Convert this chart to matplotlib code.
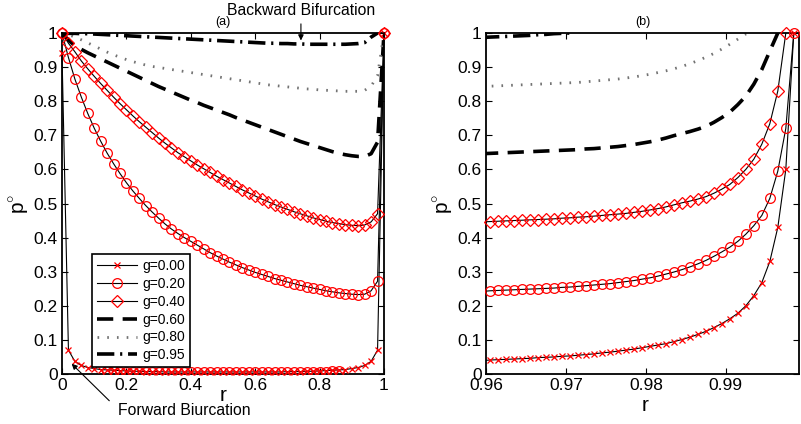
import numpy as np
import matplotlib
matplotlib.use("Agg")
import matplotlib.pyplot as plt

plt.rcParams['font.family'] = ['Liberation Sans', 'DejaVu Sans']
plt.rcParams['mathtext.fontset'] = 'custom'
plt.rcParams['mathtext.rm'] = 'Liberation Sans'

# ---- panel (a): r from 0 to 1, step 0.02 ----
r_a = [0.00, 0.02, 0.04, 0.06, 0.08, 0.10, 0.12, 0.14, 0.16, 0.18,
       0.20, 0.22, 0.24, 0.26, 0.28, 0.30, 0.32, 0.34, 0.36, 0.38,
       0.40, 0.42, 0.44, 0.46, 0.48, 0.50, 0.52, 0.54, 0.56, 0.58,
       0.60, 0.62, 0.64, 0.66, 0.68, 0.70, 0.72, 0.74, 0.76, 0.78,
       0.80, 0.82, 0.84, 0.86, 0.88, 0.90, 0.92, 0.94, 0.96, 0.98,
       1.00]

pa_g000 = [0.94, 0.07, 0.037, 0.025, 0.019, 0.016, 0.013, 0.012, 0.011, 0.010,
           0.009, 0.008, 0.008, 0.007, 0.007, 0.007, 0.006, 0.006, 0.006, 0.006,
           0.006, 0.006, 0.006, 0.006, 0.006, 0.006, 0.006, 0.006, 0.006, 0.006,
           0.006, 0.006, 0.006, 0.006, 0.006, 0.007, 0.007, 0.007, 0.008, 0.008,
           0.009, 0.010, 0.011, 0.012, 0.013, 0.016, 0.019, 0.025, 0.037, 0.07,
           1.0]
pa_g020 = [1.0, 0.928, 0.865, 0.812, 0.764, 0.721, 0.683, 0.648, 0.617, 0.588,
           0.561, 0.537, 0.515, 0.494, 0.475, 0.457, 0.44, 0.425, 0.412, 0.4,
           0.389, 0.378, 0.367, 0.356, 0.346, 0.337, 0.328, 0.32, 0.312, 0.305,
           0.298, 0.292, 0.286, 0.28, 0.275, 0.27, 0.265, 0.26, 0.256, 0.252,
           0.248, 0.244, 0.241, 0.238, 0.236, 0.234, 0.233, 0.234, 0.244, 0.272,
           1.0]
# second (lower) set of g=0.20 circles lying along p ~ 0
pa_g020_low = [np.nan, np.nan, np.nan, np.nan, np.nan, np.nan, np.nan, 0.008, 0.008, 0.007,
               0.007, 0.007, 0.007, 0.006, 0.006, 0.006, 0.006, 0.006, 0.006, 0.006,
               0.006, 0.006, 0.006, 0.006, 0.006, 0.006, 0.006, 0.006, 0.006, 0.006,
               0.006, 0.006, 0.006, 0.006, 0.006, 0.006, 0.006, 0.006, 0.007, 0.007,
               0.007, 0.007, 0.008, 0.008, np.nan, np.nan, np.nan, np.nan, np.nan, np.nan,
               np.nan]
pa_g040 = [1.0, 0.97, 0.945, 0.918, 0.895, 0.873, 0.852, 0.832, 0.812, 0.793,
           0.775, 0.757, 0.74, 0.724, 0.708, 0.692, 0.677, 0.663, 0.649, 0.637,
           0.625, 0.613, 0.602, 0.591, 0.58, 0.57, 0.56, 0.55, 0.54, 0.531,
           0.522, 0.513, 0.505, 0.497, 0.49, 0.483, 0.476, 0.47, 0.464, 0.458,
           0.453, 0.448, 0.444, 0.441, 0.438, 0.436, 0.435, 0.437, 0.446, 0.47,
           1.0]
pa_g060 = [1.0, 0.979, 0.963, 0.952, 0.942, 0.933, 0.924, 0.915, 0.906, 0.897,
           0.888, 0.879, 0.870, 0.861, 0.852, 0.843, 0.835, 0.827, 0.819, 0.811,
           0.803, 0.796, 0.788, 0.781, 0.774, 0.767, 0.760, 0.752, 0.745, 0.738,
           0.731, 0.724, 0.717, 0.710, 0.703, 0.696, 0.689, 0.682, 0.676, 0.670,
           0.664, 0.658, 0.652, 0.647, 0.643, 0.640, 0.638, 0.638, 0.646, 0.68,
           1.0]
pa_g080 = [1.0, 0.995, 0.988, 0.98, 0.971, 0.962, 0.953, 0.944, 0.936, 0.929,
           0.922, 0.916, 0.911, 0.906, 0.902, 0.899, 0.896, 0.893, 0.89, 0.887,
           0.884, 0.881, 0.878, 0.875, 0.872, 0.869, 0.866, 0.863, 0.86, 0.857,
           0.854, 0.851, 0.848, 0.846, 0.844, 0.842, 0.840, 0.838, 0.836, 0.835,
           0.833, 0.832, 0.831, 0.830, 0.829, 0.829, 0.829, 0.832, 0.844, 0.875,
           1.0]
pa_g095 = [1.0, 0.999, 0.999, 0.998, 0.998, 0.997, 0.996, 0.995, 0.994, 0.993,
           0.992, 0.991, 0.99, 0.989, 0.988, 0.987, 0.986, 0.985, 0.984, 0.983,
           0.982, 0.981, 0.98, 0.979, 0.978, 0.977, 0.976, 0.975, 0.974, 0.973,
           0.972, 0.971, 0.97, 0.97, 0.969, 0.969, 0.968, 0.968, 0.967, 0.967,
           0.967, 0.967, 0.967, 0.967, 0.967, 0.968, 0.969, 0.972, 0.988, 1.0,
           np.nan]

# ---- panel (b): zoom near r = 1, step 0.001 ----
r_b = [0.9595, 0.9605, 0.9615, 0.9625, 0.9635, 0.9645, 0.9655, 0.9665, 0.9675, 0.9685,
       0.9695, 0.9705, 0.9715, 0.9725, 0.9735, 0.9745, 0.9755, 0.9765, 0.9775, 0.9785,
       0.9795, 0.9805, 0.9815, 0.9825, 0.9835, 0.9845, 0.9855, 0.9865, 0.9875, 0.9885,
       0.9895, 0.9905, 0.9915, 0.9925, 0.9935, 0.9945, 0.9955, 0.9965, 0.9975, 0.9985]

pb_g000 = [0.039, 0.041, 0.042, 0.043, 0.044, 0.045, 0.046, 0.048, 0.049, 0.050,
           0.052, 0.053, 0.055, 0.057, 0.059, 0.062, 0.064, 0.067, 0.070, 0.073,
           0.077, 0.081, 0.085, 0.089, 0.095, 0.101, 0.108, 0.116, 0.125, 0.136,
           0.148, 0.162, 0.178, 0.200, 0.230, 0.268, 0.330, 0.430, 0.600, 1.000]
pb_g020 = [0.242, 0.244, 0.245, 0.246, 0.247, 0.248, 0.249, 0.250, 0.251, 0.252,
           0.254, 0.255, 0.257, 0.259, 0.261, 0.263, 0.265, 0.268, 0.271, 0.274,
           0.278, 0.282, 0.287, 0.293, 0.299, 0.306, 0.314, 0.323, 0.333, 0.345,
           0.358, 0.372, 0.389, 0.410, 0.435, 0.465, 0.515, 0.595, 0.720, 1.000]
pb_g040 = [0.446, 0.447, 0.448, 0.449, 0.450, 0.451, 0.452, 0.453, 0.454, 0.455,
           0.457, 0.458, 0.460, 0.461, 0.463, 0.465, 0.467, 0.469, 0.471, 0.474,
           0.477, 0.481, 0.485, 0.490, 0.496, 0.502, 0.507, 0.513, 0.520, 0.530,
           0.542, 0.556, 0.576, 0.600, 0.630, 0.674, 0.734, 0.830, 1.000, np.nan]
pb_g060 = [0.646, 0.647, 0.648, 0.649, 0.650, 0.651, 0.652, 0.653, 0.654, 0.655,
           0.656, 0.657, 0.658, 0.660, 0.661, 0.663, 0.665, 0.667, 0.670, 0.673,
           0.677, 0.681, 0.686, 0.692, 0.699, 0.705, 0.711, 0.718, 0.726, 0.738,
           0.752, 0.768, 0.790, 0.815, 0.850, 0.893, 0.947, 1.0, np.nan, np.nan]
pb_g080 = [0.843, 0.844, 0.845, 0.846, 0.847, 0.848, 0.849, 0.850, 0.851, 0.852,
           0.853, 0.854, 0.855, 0.857, 0.859, 0.861, 0.863, 0.865, 0.868, 0.871,
           0.875, 0.879, 0.884, 0.889, 0.895, 0.902, 0.910, 0.919, 0.929, 0.940,
           0.953, 0.967, 0.982, 0.997, 1.0, np.nan, np.nan, np.nan, np.nan, np.nan]
pb_g095 = [0.987, 0.988, 0.989, 0.990, 0.991, 0.992, 0.993, 0.995, 0.996, 0.998,
           0.999, 1.0] + [np.nan] * 28

labels = ['g=0.00', 'g=0.20', 'g=0.40', 'g=0.60', 'g=0.80', 'g=0.95']
yticks = [0, 0.1, 0.2, 0.3, 0.4, 0.5, 0.6, 0.7, 0.8, 0.9, 1]
ytick_labels = ['0', '0.1', '0.2', '0.3', '0.4', '0.5', '0.6', '0.7', '0.8', '0.9', '1']

mk_styles = [dict(marker='x', ms=5, mew=0.9),
             dict(marker='o', ms=7, mew=0.9),
             dict(marker='D', ms=6, mew=0.9)]
ln_styles = [dict(color='black', lw=2.6, dashes=(4.5, 2.6)),
             dict(color='0.45', lw=2.0, dashes=(0.6, 2.9)),
             dict(color='black', lw=2.6, dashes=(4.8, 1.6, 0.6, 1.6))]

tick_font = ['Liberation Sans Narrow', 'Liberation Sans', 'DejaVu Sans']

fig = plt.figure(figsize=(8.01, 4.24), dpi=100)
ax1 = fig.add_axes([62 / 801, 50 / 424, 322 / 801, 341 / 424])
ax2 = fig.add_axes([486 / 801, 50 / 424, 313 / 801, 341 / 424])

# panel (a)
for p, st, lab in zip([pa_g000, pa_g020, pa_g040], mk_styles, labels[:3]):
    ax1.plot(r_a, p, color='black', lw=0.8, mfc='none', mec='red', clip_on=False,
             label=lab, zorder=3, **st)
ax1.plot(r_a, pa_g020_low, ls='none', mfc='none', mec='red', zorder=3, **mk_styles[1])
for p, st, lab in zip([pa_g060, pa_g080, pa_g095], ln_styles, labels[3:]):
    ax1.plot(r_a, p, label=lab, zorder=2, **st)

ax1.set_xlim(0, 1)
ax1.set_ylim(0, 1)
ax1.set_xticks([0, 0.2, 0.4, 0.6, 0.8, 1])
ax1.set_xticklabels(['0', '0.2', '0.4', '0.6', '0.8', '1'])
ax1.set_title('(a)', fontsize=9, pad=6)

leg = ax1.legend(loc='lower left', bbox_to_anchor=(0.093, 0.02), borderaxespad=0,
                 fontsize=10, numpoints=1, handlelength=2.9, fancybox=False,
                 framealpha=1, edgecolor='black', labelspacing=0.28,
                 borderpad=0.35, handletextpad=0.4)
leg.get_frame().set_linewidth(1.2)

ax1.annotate('Backward Bifurcation', xy=(0.742, 0.978), xytext=(0.742, 1.065),
             ha='center', va='center', fontsize=11.3, annotation_clip=False,
             arrowprops=dict(arrowstyle='-|>', color='black', lw=0.8,
                             mutation_scale=8, shrinkA=2, shrinkB=0))
ax1.annotate('Forward Biurcation', xy=(0.03, 0.03), xytext=(0.174, -0.108),
             ha='left', va='center', fontsize=11.3, annotation_clip=False,
             arrowprops=dict(arrowstyle='-|>', color='black', lw=0.8,
                             mutation_scale=8, shrinkA=6, shrinkB=0,
                             relpos=(0, 0.6)))

# panel (b)
r_b_arr = np.array(r_b)
show = r_b_arr >= 0.96
for p, st in zip([pb_g000, pb_g020, pb_g040], mk_styles):
    p = np.array(p)
    ax2.plot(r_b, p, color='black', lw=0.8, zorder=3)
    ax2.plot(r_b_arr[show], p[show], ls='none', mfc='none', mec='red',
             clip_on=False, zorder=4, **st)
for p, st in zip([pb_g060, pb_g080, pb_g095], ln_styles):
    ax2.plot(r_b, p, zorder=2, **st)

ax2.set_xlim(0.96, 0.99915)
ax2.set_ylim(0, 1)
ax2.set_xticks([0.96, 0.97, 0.98, 0.99])
ax2.set_xticklabels(['0.96', '0.97', '0.98', '0.99'])
ax2.set_title('(b)', fontsize=9, pad=6)

for ax in (ax1, ax2):
    ax.set_yticks(yticks)
    ax.set_yticklabels(ytick_labels)
    ax.tick_params(direction='in', length=4, width=0.8, labelsize=12.5,
                   top=True, right=True, pad=3)
    for t in ax.get_xticklabels() + ax.get_yticklabels():
        t.set_family(tick_font)
    for s in ax.spines.values():
        s.set_linewidth(1.3)
    ax.set_ylabel(r'p$^{\circ}$', fontsize=15, labelpad=2)

ax1.set_xlabel('r', fontsize=15, labelpad=-5)
ax2.set_xlabel('r', fontsize=15, labelpad=2, x=0.508)

fig.savefig('out.png', dpi=100)
